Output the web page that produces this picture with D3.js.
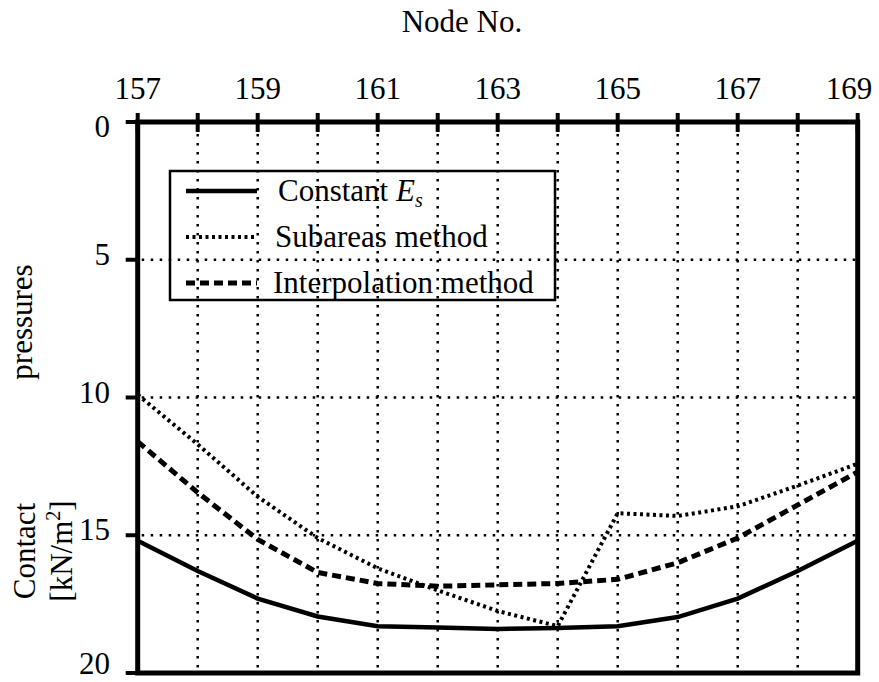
<!DOCTYPE html>
<html>
    <head>
        <script src="https://d3js.org/d3.v7.min.js"></script>
        <style>
            body, html {
                margin: 0;
                background: #ffffff;
                font-family: "Liberation Serif", "Times New Roman", serif;
            }
            text {
                font-family: "Liberation Serif", "Times New Roman", serif;
                font-size: 31px;
                fill: #000000;
            }
            .grid {
                stroke: #000000;
                stroke-width: 2.5;
                stroke-dasharray: 2.5 6.5;
            }
        </style>
    </head>
    <body>
        <div id="chart"></div>
        <script>

            /* DATA */
            const nodes = [157, 158, 159, 160, 161, 162, 163, 164, 165, 166, 167, 168, 169];
            const nodeLabels = [157, 159, 161, 163, 165, 167, 169];
            const pressureTicks = [0, 5, 10, 15, 20];
            const gridPressures = [5, 10, 15];

            const constantEs = [15.2, 16.3, 17.3, 17.95, 18.3, 18.35, 18.4, 18.37, 18.3, 17.97, 17.3, 16.3, 15.2];
            const subareas = [9.9, 11.7, 13.6, 15.1, 16.2, 17.0, 17.75, 18.3, 14.2, 14.3, 13.95, 13.2, 12.4];
            const interpolation = [11.6, 13.45, 15.15, 16.35, 16.75, 16.85, 16.8, 16.75, 16.6, 16.0, 15.1, 13.9, 12.7];

            const seriesNames = ["Constant", "Subareas method", "Interpolation method"];

            /* SVG */
            const width = 879;
            const height = 682;

            const svg = d3.select("#chart")
                .append("svg")
                .attr("width", width)
                .attr("height", height);

            const xScale = d3.scaleLinear()
                .domain([157, 169])
                .range([137.7, 857.7]);

            const yScale = d3.scaleLinear()
                .domain([0, 20])
                .range([122, 673]);

            /* GRID */
            const grid = svg.append("g");
            grid.selectAll(".vgrid")
                .data(nodes.slice(1, -1))
                .enter()
                .append("line")
                .attr("class", "grid")
                .attr("x1", d => xScale(d))
                .attr("x2", d => xScale(d))
                .attr("y1", yScale(0) + 12)
                .attr("y2", yScale(20));

            grid.selectAll(".hgrid")
                .data(gridPressures)
                .enter()
                .append("line")
                .attr("class", "grid")
                .attr("x1", xScale(157) + 4)
                .attr("x2", xScale(169))
                .attr("y1", d => yScale(d))
                .attr("y2", d => yScale(d));

            /* SERIES */
            const styles = [
                {w: 4.5, dash: null},
                {w: 4, dash: "3 3.5"},
                {w: 5, dash: "9 5"}
            ];
            const allSeries = [constantEs, subareas, interpolation];

            const line = d3.line()
                .x((d, i) => xScale(nodes[i]))
                .y(d => yScale(d));

            allSeries.forEach((values, k) => {
                svg.append("path")
                    .datum(values)
                    .attr("d", line)
                    .attr("fill", "none")
                    .attr("stroke", "#000")
                    .attr("stroke-width", styles[k].w)
                    .attr("stroke-dasharray", styles[k].dash);
            });

            /* FRAME */
            svg.append("rect")
                .attr("x", xScale(157))
                .attr("y", yScale(0))
                .attr("width", xScale(169) - xScale(157))
                .attr("height", yScale(20) - yScale(0))
                .attr("fill", "none")
                .attr("stroke", "#000")
                .attr("stroke-width", 5);

            // top axis ticks cross the line
            svg.selectAll(".xtick")
                .data(nodes)
                .enter()
                .append("line")
                .attr("x1", d => xScale(d))
                .attr("x2", d => xScale(d))
                .attr("y1", yScale(0) - 9)
                .attr("y2", yScale(0) + 10)
                .attr("stroke", "#000")
                .attr("stroke-width", 4);

            svg.selectAll(".xlabel")
                .data(nodeLabels)
                .enter()
                .append("text")
                .attr("x", d => Math.min(xScale(d), width - 30))
                .attr("y", 99)
                .attr("text-anchor", "middle")
                .text(d => d);

            // left axis ticks
            svg.selectAll(".ytick")
                .data(pressureTicks)
                .enter()
                .append("line")
                .attr("x1", xScale(157) - 12)
                .attr("x2", xScale(157))
                .attr("y1", d => yScale(d))
                .attr("y2", d => yScale(d))
                .attr("stroke", "#000")
                .attr("stroke-width", 4);

            svg.selectAll(".ylabel")
                .data(pressureTicks)
                .enter()
                .append("text")
                .attr("x", 110)
                .attr("y", d => Math.min(Math.max(yScale(d) + 5, yScale(0) + 15), height - 8))
                .attr("text-anchor", "end")
                .text(d => d);

            /* AXIS TITLES */
            svg.append("text")
                .attr("x", 462)
                .attr("y", 32)
                .attr("text-anchor", "middle")
                .text("Node No.");

            svg.append("text")
                .attr("transform", "translate(32,322) rotate(-90)")
                .attr("text-anchor", "middle")
                .text("pressures");

            svg.append("text")
                .attr("transform", "translate(35,551) rotate(-90)")
                .attr("text-anchor", "middle")
                .text("Contact");

            const unit = svg.append("text")
                .attr("transform", "translate(72,551) rotate(-90)")
                .attr("text-anchor", "middle");
            unit.append("tspan").text("[kN/m");
            unit.append("tspan").attr("dy", -12).attr("font-size", 20).text("2");
            unit.append("tspan").attr("dy", 12).text("]");

            /* LEGEND */
            const legend = svg.append("g");
            legend.append("rect")
                .attr("x", 170)
                .attr("y", 171)
                .attr("width", 385)
                .attr("height", 129)
                .attr("fill", "none")
                .attr("stroke", "#000")
                .attr("stroke-width", 2.5);

            const legendY = [191, 237, 283];
            seriesNames.forEach((name, k) => {
                legend.append("line")
                    .attr("x1", 186)
                    .attr("x2", 257)
                    .attr("y1", legendY[k])
                    .attr("y2", legendY[k])
                    .attr("stroke", "#000")
                    .attr("stroke-width", styles[k].w)
                    .attr("stroke-dasharray", styles[k].dash);

                const t = legend.append("text")
                    .attr("x", k === 0 ? 278 : (k === 1 ? 275 : 273))
                    .attr("y", legendY[k] + 10);
                t.append("tspan").text(name);
                if (k === 0) {
                    t.append("tspan").text(" ");
                    t.append("tspan").attr("font-style", "italic").text("E");
                    t.append("tspan").attr("font-style", "italic").attr("font-size", 20).attr("dy", 6).text("s");
                }
            });

        </script>
    </body>
</html>
